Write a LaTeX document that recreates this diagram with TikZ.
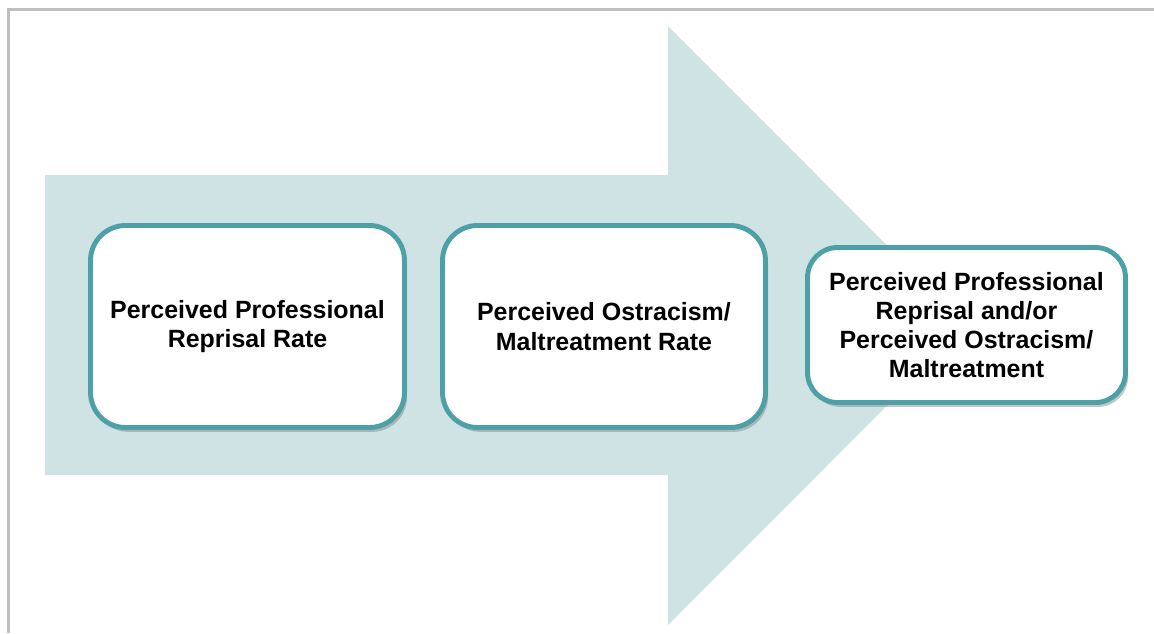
\documentclass[tikz,border=0pt]{standalone}
\usepackage{fontspec}
\setmainfont{Liberation Sans}
\usepackage{tikz}
\usetikzlibrary{shadows}
\definecolor{prarrow}{RGB}{207,227,229}
\definecolor{prteal}{RGB}{78,160,167}
\definecolor{prframe}{RGB}{191,191,191}
\definecolor{prtext}{RGB}{0,0,0}

\begin{document}
\begin{tikzpicture}[x=0.02cm, y=-0.02cm,
  stagebox/.style={draw=prteal, line width=2.8pt, fill=white,
    rounded corners=0.7cm, align=center, text=prtext, inner sep=0pt,
    font=\fontsize{14.2}{16.6}\selectfont\bfseries,
    drop shadow={opacity=0.45, shadow xshift=1.5pt, shadow yshift=-2.5pt}}]
% outer
\fill[white] (0,0) rectangle (1154,633);
\useasboundingbox (0,0) rectangle (1154,633);
\draw[prframe, line width=0.05cm] (8.5,633) -- (8.5,9.5) -- (1154,9.5);

% big arrow
\fill[prarrow] (45,175) -- (668,175) -- (668,26) -- (967,325.5)
  -- (668,625) -- (668,475) -- (45,475) -- cycle;

% stages
\node[stagebox, minimum width=6.28cm, minimum height=4.04cm]
  (reprisal) at (247.5,326.5) {Perceived Professional\\Reprisal Rate};
\node[stagebox, minimum width=6.46cm, minimum height=4.04cm]
  (ostracism) at (604,326.5) {Perceived Ostracism/\\Maltreatment Rate};
\node[stagebox, minimum width=6.36cm, minimum height=3.10cm,
  rounded corners=0.6cm]
  (outcome) at (966.5,325) {Perceived Professional\\Reprisal and/or\\Perceived Ostracism/\\Maltreatment};
\end{tikzpicture}
\end{document}
